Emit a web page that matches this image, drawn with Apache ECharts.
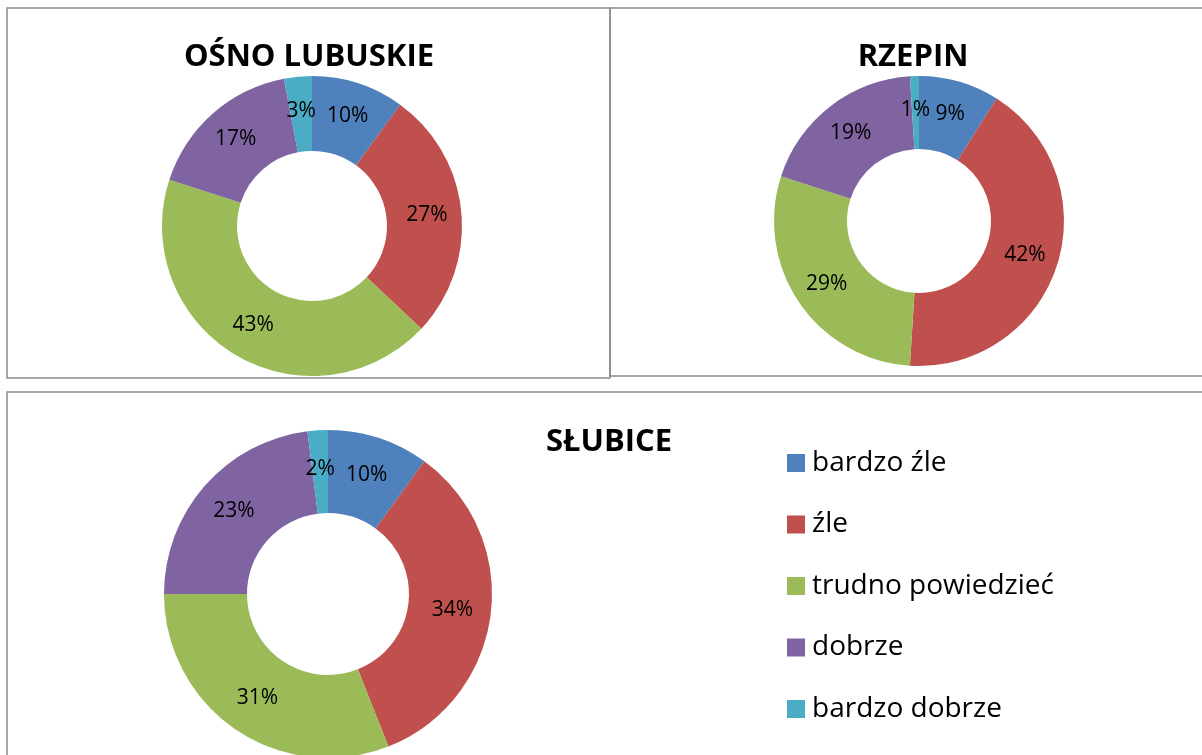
<!DOCTYPE html>
<html>
<head>
<meta charset="utf-8">
<script src="https://cdn.jsdelivr.net/npm/echarts@6/dist/echarts.min.js"></script>
<style>
  html, body { margin: 0; padding: 0; background: #fff; }
  #chart { width: 1202px; height: 755px; }
</style>
</head>
<body>
<div id="chart"></div>
<script>
  // answer categories, same order in every town
  var categories = ['bardzo źle', 'źle', 'trudno powiedzieć', 'dobrze', 'bardzo dobrze'];
  var colors = ['#4F81BD', '#C0504D', '#9BBB59', '#8064A2', '#4BACC6'];

  var towns = ['OŚNO LUBUSKIE', 'RZEPIN', 'SŁUBICE'];
  var osnoValues = [10, 27, 43, 17, 3];
  var rzepinValues = [9, 42, 29, 19, 1];
  var slubiceValues = [10, 34, 31, 23, 2];

  var font = '"Open Sans", "Noto Sans", sans-serif';

  function toData(values) {
    return values.map(function (v, i) {
      return {name: categories[i], value: v};
    });
  }

  function donut(values, center, radius) {
    return {
      type: 'pie',
      center: center,
      radius: radius,
      startAngle: 90,
      clockwise: true,
      avoidLabelOverlap: false,
      animation: false,
      silent: true,
      label: {
        show: true,
        position: 'inside',
        formatter: '{c}%',
        color: '#000',
        fontFamily: font,
        fontSize: 21
      },
      labelLine: {show: false},
      itemStyle: {borderWidth: 0},
      data: toData(values)
    };
  }

  var myChart = echarts.init(document.getElementById('chart'));

  var titleStyle = {
    color: '#000',
    fontFamily: font,
    fontWeight: 'bold',
    fontSize: 31
  };

  var option = {
    color: colors,
    title: [
      {text: towns[0], left: 304, top: 37, textAlign: 'center', textStyle: titleStyle},
      {text: towns[1], left: 908, top: 37, textAlign: 'center', textStyle: titleStyle},
      {text: towns[2], left: 604, top: 422, textAlign: 'center', textStyle: titleStyle}
    ],
    legend: {
      orient: 'vertical',
      left: 782,
      top: 444,
      icon: 'rect',
      itemWidth: 18,
      itemHeight: 18,
      itemGap: 33.5,
      selectedMode: false,
      textStyle: {
        color: '#000',
        fontFamily: font,
        fontSize: 28,
        lineHeight: 28,
        padding: [0, 0, 0, 2]
      },
      data: categories
    },
    graphic: [
      {type: 'rect', shape: {x: 7, y: 8, width: 603, height: 370}, style: {fill: 'none', stroke: '#8c8c8c', lineWidth: 1.5}, z: 0},
      {type: 'rect', shape: {x: 610, y: 8, width: 600, height: 368}, style: {fill: 'none', stroke: '#8c8c8c', lineWidth: 1.5}, z: 0},
      {type: 'rect', shape: {x: 7, y: 392, width: 1205, height: 380}, style: {fill: 'none', stroke: '#8c8c8c', lineWidth: 1.5}, z: 0}
    ],
    series: [
      donut(osnoValues, [312, 226], [75, 150]),
      donut(rzepinValues, [919, 221], [72, 145]),
      donut(slubiceValues, [328, 594], [81, 164])
    ]
  };

  myChart.setOption(option);
</script>
</body>
</html>
